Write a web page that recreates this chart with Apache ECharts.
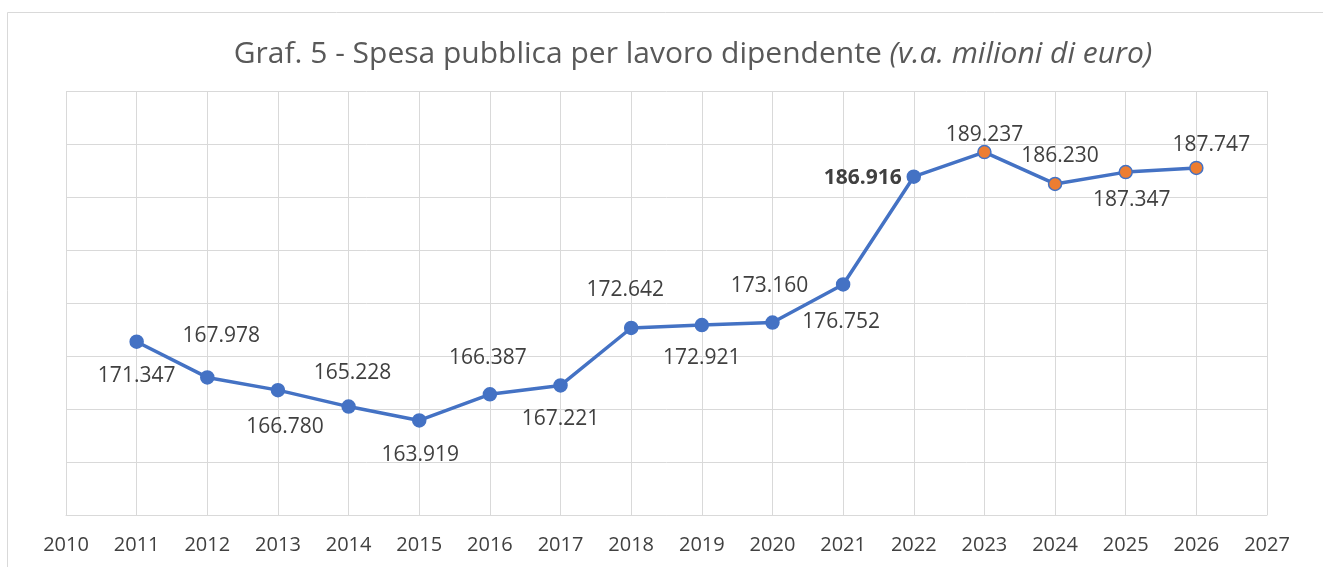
<!DOCTYPE html>
<html>
<head>
<meta charset="utf-8">
<title>Graf. 5 - Spesa pubblica per lavoro dipendente</title>
<script src="https://cdn.jsdelivr.net/npm/echarts@6/dist/echarts.min.js"></script>
<style>
  html, body { margin: 0; padding: 0; background: #fff; }
  #chart { width: 1323px; height: 567px; }
</style>
</head>
<body>
<div id="chart"></div>
<script>
// dati
const years = [2011, 2012, 2013, 2014, 2015, 2016, 2017, 2018, 2019, 2020, 2021, 2022, 2023, 2024, 2025, 2026];
const values = [171.347, 167.978, 166.780, 165.228, 163.919, 166.387, 167.221, 172.642, 172.921, 173.160, 176.752, 186.916, 189.237, 186.230, 187.347, 187.747];
const firstForecastYear = 2023;
const boldYear = 2022;
const titleMain = 'Graf. 5 - Spesa pubblica per lavoro dipendente ';
const titleUnit = '(v.a. milioni di euro)';

// spostamento delle etichette rispetto al punto (come nel grafico excel)
const labelOffsets = [
  [0, 34], [14, -41], [7, 37], [4, -34], [1, 35], [-2, -36], [0, 34], [-6, -38],
  [0, 33], [-3, -36], [-2, 38], [-51, 1], [0, -17], [5, -28], [6, 28], [15, -23]
];

const blue = '#4472C4';
const orange = '#ED7D31';
const grid = '#d9d9d9';
const textColor = '#404040';
const font = '"Open Sans", "Liberation Sans", sans-serif';

const formatValue = (v) => v.toFixed(3);

const seriesData = years.map((year, i) => ({
  value: [year, values[i]],
  itemStyle: {
    color: year >= firstForecastYear ? orange : blue,
    borderColor: blue,
    borderWidth: 1.5
  },
  label: {
    show: true,
    position: 'inside',
    offset: labelOffsets[i],
    formatter: () => formatValue(values[i]),
    fontWeight: year === boldYear ? 'bold' : 'normal'
  }
}));

const chart = echarts.init(document.getElementById('chart'));

chart.setOption({
  backgroundColor: '#fff',
  animation: false,
  title: {
    left: 688,
    top: 31,
    textAlign: 'center',
    text: '{a|' + titleMain + '}{b|' + titleUnit + '}',
    textStyle: {
      fontWeight: 'normal',
      rich: {
        a: { fontFamily: font, fontSize: 30, fontWeight: 'normal', color: '#595959', lineHeight: 37 },
        b: { fontFamily: font, fontSize: 30, fontWeight: 'normal', color: '#595959', fontStyle: 'italic', lineHeight: 37 }
      }
    }
  },
  graphic: [{
    type: 'rect',
    shape: { x: 7.5, y: 12.5, width: 1400, height: 700 },
    style: { fill: 'none', stroke: grid, lineWidth: 1 },
    silent: true
  }],
  grid: { left: 66, top: 91, right: 56, bottom: 52 },
  xAxis: {
    type: 'value',
    min: 2010,
    max: 2027,
    interval: 1,
    axisLine: { lineStyle: { color: grid, width: 1 } },
    axisTick: { show: false },
    axisLabel: {
      margin: 20,
      color: textColor,
      fontFamily: font,
      fontSize: 20,
      formatter: (v) => String(v)
    },
    splitLine: { show: true, lineStyle: { color: grid, width: 1 } }
  },
  yAxis: {
    type: 'value',
    min: 155,
    max: 195,
    interval: 5,
    axisLine: { show: false },
    axisTick: { show: false },
    axisLabel: { show: false },
    splitLine: { show: true, lineStyle: { color: grid, width: 1 } }
  },
  series: [{
    type: 'line',
    data: seriesData,
    symbol: 'circle',
    symbolSize: 13,
    lineStyle: { color: blue, width: 3.5 },
    label: {
      color: textColor,
      fontFamily: font,
      fontSize: 21,
      textBorderWidth: 0
    }
  }]
});
</script>
</body>
</html>
